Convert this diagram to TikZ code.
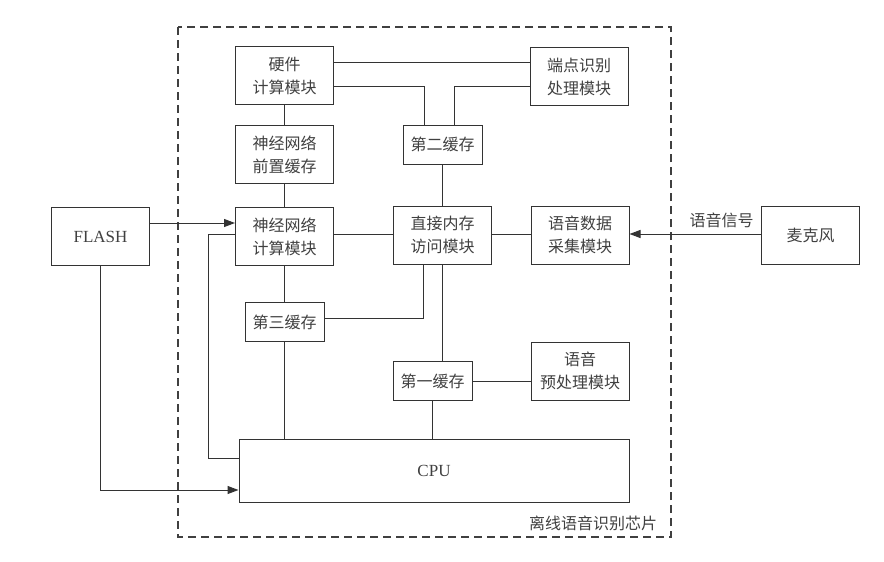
\documentclass[tikz,border=0pt]{standalone}
\usepackage{fontspec}
\setmainfont{Liberation Serif}
\newfontfamily\cjk{Noto Sans CJK SC}
\usetikzlibrary{arrows.meta}
\begin{document}
\begin{tikzpicture}[x=1pt,y=-1pt,
  every node/.style={text=black!75},
  blk/.style={draw=black!80,line width=1pt,minimum width=98pt,minimum height=58pt,inner sep=0pt,align=center,font=\cjk\fontsize{16}{23}\selectfont},
  sblk/.style={blk,minimum width=79pt,minimum height=39pt},
  lnk/.style={draw=black!80,line width=1pt},
  arr/.style={lnk,-{Triangle[length=11pt,width=8pt]}},
  lbl/.style={font=\cjk\fontsize{16}{20}\selectfont,inner sep=0pt}]
\useasboundingbox (0,0) rectangle (884,562);
% chip boundary
\draw[draw=black!75,line width=1.1pt,dash pattern=on 8pt off 5pt] (178,27) rectangle (671,537);
\node[lbl] (chip) at (593,523) {离线语音识别芯片};
% blocks
\node[blk] (hw) at (284.5,75.5) {硬件\\计算模块};
\node[blk] (ep) at (579,76.5) {端点识别\\处理模块};
\node[sblk] (c2) at (442.5,144.5) {第二缓存};
\node[blk] (pre) at (284.5,154.5) {神经网络\\前置缓存};
\node[blk] (nn) at (284.5,236.5) {神经网络\\计算模块};
\node[blk,font=\fontsize{17}{20}\selectfont] (flash) at (100.5,236.5) {FLASH};
\node[blk] (dma) at (442.5,235) {直接内存\\访问模块};
\node[blk] (voice) at (580,235) {语音数据\\采集模块};
\node[blk] (mic) at (810.5,235) {麦克风};
\node[sblk] (c3) at (284.5,322) {第三缓存};
\node[sblk] (c1) at (432.5,381) {第一缓存};
\node[blk] (prep) at (580,371) {语音\\预处理模块};
\node[blk,minimum width=390pt,minimum height=63pt,font=\fontsize{17}{20}\selectfont] (cpu) at (434,470.5) {CPU};
% helper coordinates
\coordinate (yA) at (0,62);
\coordinate (yB) at (0,86);
\coordinate (yM) at (0,234);
\coordinate (xL) at (208,0);
\coordinate (yC) at (0,458);
\coordinate (yD) at (0,490);
% connectors
\draw[lnk] (hw.east |- yA) -- (ep.west |- yA);
\draw[lnk] (hw.east |- yB) -| ([xshift=-18.5pt]c2.north);
\draw[lnk] (ep.west |- yB) -| ([xshift=11.5pt]c2.north);
\draw[lnk] (hw.south) -- (pre.north);
\draw[lnk] (pre.south) -- (nn.north);
\draw[lnk] (c2.south) -- (dma.north);
\draw[arr] ([yshift=13.5pt]flash.east) -- ([yshift=13.5pt]nn.west);
\draw[lnk] (nn.west |- yM) -| (xL |- yC) -- (cpu.west |- yC);
\draw[arr] (flash.south) -- (flash.south |- yD) -- (cpu.west |- yD);
\draw[lnk] (nn.south) -- (c3.north);
\draw[lnk] (c3.south) -- (c3.south |- cpu.north);
\draw[lnk] ([yshift=4pt]c3.east) -| ([xshift=-19.5pt]dma.south);
\draw[lnk] (nn.east |- yM) -- (dma.west |- yM);
\draw[lnk] (dma.east |- yM) -- (voice.west |- yM);
\draw[arr] (mic.west |- yM) -- node[lbl,above=6pt,pos=0.3] (sig) {语音信号} (voice.east |- yM);
\draw[lnk] (dma.south) -- (dma.south |- c1.north);
\draw[lnk] (c1.east) -- (prep.west |- c1.east);
\draw[lnk] (c1.south) -- (c1.south |- cpu.north);
\end{tikzpicture}
\end{document}
